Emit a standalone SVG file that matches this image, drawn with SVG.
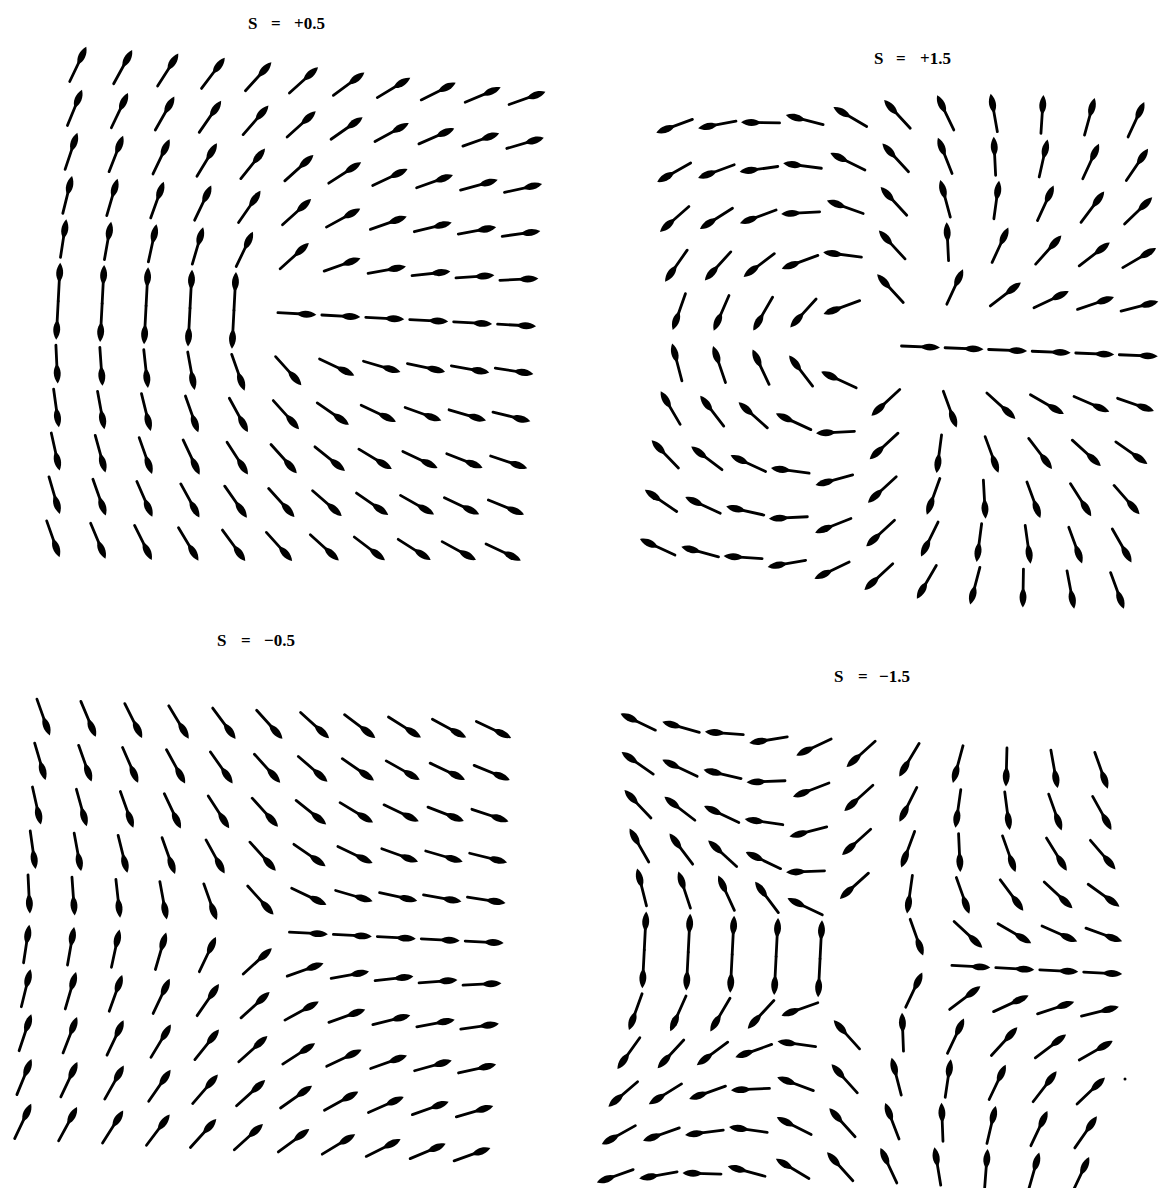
<svg xmlns="http://www.w3.org/2000/svg" xmlns:xlink="http://www.w3.org/1999/xlink" width="1161" height="1188" viewBox="0 0 1161 1188">
<style>
.t{font-family:"Liberation Serif","DejaVu Serif",serif;font-weight:bold;font-size:17px;fill:#000}
.ln{stroke:#000;stroke-width:2.8;stroke-linecap:round;fill:none}
.hd{fill:#000}
</style>
<defs>
<g id="n"><path class="ln" d="M0 0H34"/><path class="hd" d="M19 0C24 -4.6 32 -4.6 38.5 0C32 4.6 24 4.6 19 0Z"/></g>
</defs>
<rect width="1161" height="1188" fill="#fff"/>
<g id="title1"><text class="t" y="29"><tspan x="248">S</tspan><tspan x="271">=</tspan><tspan x="294">+0.5</tspan></text></g>
<g id="title2"><text class="t" y="64"><tspan x="874">S</tspan><tspan x="896">=</tspan><tspan x="920">+1.5</tspan></text></g>
<g id="title3"><text class="t" y="646"><tspan x="217">S</tspan><tspan x="241">=</tspan><tspan x="264">−0.5</tspan></text></g>
<g id="title4"><text class="t" y="682"><tspan x="834">S</tspan><tspan x="858">=</tspan><tspan x="879">−1.5</tspan></text></g>

<g id="panel1" transform="translate(277.9 312.7) rotate(3)">
<use href="#n" transform="translate(-220 -220)rotate(-67.5)"/><use href="#n" transform="translate(-176 -220)rotate(-64.3)"/><use href="#n" transform="translate(-132 -220)rotate(-60.5)"/><use href="#n" transform="translate(-88 -220)rotate(-55.9)"/><use href="#n" transform="translate(-44 -220)rotate(-50.7)"/><use href="#n" transform="translate(0 -220)rotate(-45)"/><use href="#n" transform="translate(44 -220)rotate(-39.3)"/><use href="#n" transform="translate(88 -220)rotate(-34.1)"/><use href="#n" transform="translate(132 -220)rotate(-29.5)"/><use href="#n" transform="translate(176 -220)rotate(-25.7)"/><use href="#n" transform="translate(220 -220)rotate(-22.5)"/>
<use href="#n" transform="translate(-220 -176)rotate(-70.7)"/><use href="#n" transform="translate(-176 -176)rotate(-67.5)"/><use href="#n" transform="translate(-132 -176)rotate(-63.4)"/><use href="#n" transform="translate(-88 -176)rotate(-58.3)"/><use href="#n" transform="translate(-44 -176)rotate(-52)"/><use href="#n" transform="translate(0 -176)rotate(-45)"/><use href="#n" transform="translate(44 -176)rotate(-38)"/><use href="#n" transform="translate(88 -176)rotate(-31.7)"/><use href="#n" transform="translate(132 -176)rotate(-26.6)"/><use href="#n" transform="translate(176 -176)rotate(-22.5)"/><use href="#n" transform="translate(220 -176)rotate(-19.3)"/>
<use href="#n" transform="translate(-220 -132)rotate(-74.5)"/><use href="#n" transform="translate(-176 -132)rotate(-71.6)"/><use href="#n" transform="translate(-132 -132)rotate(-67.5)"/><use href="#n" transform="translate(-88 -132)rotate(-61.8)"/><use href="#n" transform="translate(-44 -132)rotate(-54.2)"/><use href="#n" transform="translate(0 -132)rotate(-45)"/><use href="#n" transform="translate(44 -132)rotate(-35.8)"/><use href="#n" transform="translate(88 -132)rotate(-28.2)"/><use href="#n" transform="translate(132 -132)rotate(-22.5)"/><use href="#n" transform="translate(176 -132)rotate(-18.4)"/><use href="#n" transform="translate(220 -132)rotate(-15.5)"/>
<use href="#n" transform="translate(-220 -88)rotate(-79.1)"/><use href="#n" transform="translate(-176 -88)rotate(-76.7)"/><use href="#n" transform="translate(-132 -88)rotate(-73.2)"/><use href="#n" transform="translate(-88 -88)rotate(-67.5)"/><use href="#n" transform="translate(-44 -88)rotate(-58.3)"/><use href="#n" transform="translate(0 -88)rotate(-45)"/><use href="#n" transform="translate(44 -88)rotate(-31.7)"/><use href="#n" transform="translate(88 -88)rotate(-22.5)"/><use href="#n" transform="translate(132 -88)rotate(-16.8)"/><use href="#n" transform="translate(176 -88)rotate(-13.3)"/><use href="#n" transform="translate(220 -88)rotate(-10.9)"/>
<use href="#n" transform="translate(-220 -44)rotate(-84.3)"/><use href="#n" transform="translate(-176 -44)rotate(-83)"/><use href="#n" transform="translate(-132 -44)rotate(-80.8)"/><use href="#n" transform="translate(-88 -44)rotate(-76.7)"/><use href="#n" transform="translate(-44 -44)rotate(-67.5)"/><use href="#n" transform="translate(0 -44)rotate(-45)"/><use href="#n" transform="translate(44 -44)rotate(-22.5)"/><use href="#n" transform="translate(88 -44)rotate(-13.3)"/><use href="#n" transform="translate(132 -44)rotate(-9.2)"/><use href="#n" transform="translate(176 -44)rotate(-7)"/><use href="#n" transform="translate(220 -44)rotate(-5.7)"/>
<use href="#n" transform="translate(-220 0)rotate(-90)"/><use href="#n" transform="translate(-220 0)rotate(90)"/><use href="#n" transform="translate(-176 0)rotate(-90)"/><use href="#n" transform="translate(-176 0)rotate(90)"/><use href="#n" transform="translate(-132 0)rotate(-90)"/><use href="#n" transform="translate(-132 0)rotate(90)"/><use href="#n" transform="translate(-88 0)rotate(-90)"/><use href="#n" transform="translate(-88 0)rotate(90)"/><use href="#n" transform="translate(-44 0)rotate(-90)"/><use href="#n" transform="translate(-44 0)rotate(90)"/><use href="#n" transform="translate(0 0)"/><use href="#n" transform="translate(44 0)"/><use href="#n" transform="translate(88 0)"/><use href="#n" transform="translate(132 0)"/><use href="#n" transform="translate(176 0)"/><use href="#n" transform="translate(220 0)"/>
<use href="#n" transform="translate(-220 44)rotate(84.3)"/><use href="#n" transform="translate(-176 44)rotate(83)"/><use href="#n" transform="translate(-132 44)rotate(80.8)"/><use href="#n" transform="translate(-88 44)rotate(76.7)"/><use href="#n" transform="translate(-44 44)rotate(67.5)"/><use href="#n" transform="translate(0 44)rotate(45)"/><use href="#n" transform="translate(44 44)rotate(22.5)"/><use href="#n" transform="translate(88 44)rotate(13.3)"/><use href="#n" transform="translate(132 44)rotate(9.2)"/><use href="#n" transform="translate(176 44)rotate(7)"/><use href="#n" transform="translate(220 44)rotate(5.7)"/>
<use href="#n" transform="translate(-220 88)rotate(79.1)"/><use href="#n" transform="translate(-176 88)rotate(76.7)"/><use href="#n" transform="translate(-132 88)rotate(73.2)"/><use href="#n" transform="translate(-88 88)rotate(67.5)"/><use href="#n" transform="translate(-44 88)rotate(58.3)"/><use href="#n" transform="translate(0 88)rotate(45)"/><use href="#n" transform="translate(44 88)rotate(31.7)"/><use href="#n" transform="translate(88 88)rotate(22.5)"/><use href="#n" transform="translate(132 88)rotate(16.8)"/><use href="#n" transform="translate(176 88)rotate(13.3)"/><use href="#n" transform="translate(220 88)rotate(10.9)"/>
<use href="#n" transform="translate(-220 132)rotate(74.5)"/><use href="#n" transform="translate(-176 132)rotate(71.6)"/><use href="#n" transform="translate(-132 132)rotate(67.5)"/><use href="#n" transform="translate(-88 132)rotate(61.8)"/><use href="#n" transform="translate(-44 132)rotate(54.2)"/><use href="#n" transform="translate(0 132)rotate(45)"/><use href="#n" transform="translate(44 132)rotate(35.8)"/><use href="#n" transform="translate(88 132)rotate(28.2)"/><use href="#n" transform="translate(132 132)rotate(22.5)"/><use href="#n" transform="translate(176 132)rotate(18.4)"/><use href="#n" transform="translate(220 132)rotate(15.5)"/>
<use href="#n" transform="translate(-220 176)rotate(70.7)"/><use href="#n" transform="translate(-176 176)rotate(67.5)"/><use href="#n" transform="translate(-132 176)rotate(63.4)"/><use href="#n" transform="translate(-88 176)rotate(58.3)"/><use href="#n" transform="translate(-44 176)rotate(52)"/><use href="#n" transform="translate(0 176)rotate(45)"/><use href="#n" transform="translate(44 176)rotate(38)"/><use href="#n" transform="translate(88 176)rotate(31.7)"/><use href="#n" transform="translate(132 176)rotate(26.6)"/><use href="#n" transform="translate(176 176)rotate(22.5)"/><use href="#n" transform="translate(220 176)rotate(19.3)"/>
<use href="#n" transform="translate(-220 220)rotate(67.5)"/><use href="#n" transform="translate(-176 220)rotate(64.3)"/><use href="#n" transform="translate(-132 220)rotate(60.5)"/><use href="#n" transform="translate(-88 220)rotate(55.9)"/><use href="#n" transform="translate(-44 220)rotate(50.7)"/><use href="#n" transform="translate(0 220)rotate(45)"/><use href="#n" transform="translate(44 220)rotate(39.3)"/><use href="#n" transform="translate(88 220)rotate(34.1)"/><use href="#n" transform="translate(132 220)rotate(29.5)"/><use href="#n" transform="translate(176 220)rotate(25.7)"/><use href="#n" transform="translate(220 220)rotate(22.5)"/>
</g>

<g id="panel2" transform="translate(901.5 346) rotate(2.3)">
<use href="#n" transform="translate(-218 -218)rotate(-202.5)"/><use href="#n" transform="translate(-174.4 -218)rotate(-193)"/><use href="#n" transform="translate(-130.8 -218)rotate(-181.4)"/><use href="#n" transform="translate(-87.2 -218)rotate(-167.7)"/><use href="#n" transform="translate(-43.6 -218)rotate(-152)"/><use href="#n" transform="translate(0 -218)rotate(-135)"/><use href="#n" transform="translate(43.6 -218)rotate(-118)"/><use href="#n" transform="translate(87.2 -218)rotate(-102.3)"/><use href="#n" transform="translate(130.8 -218)rotate(-88.6)"/><use href="#n" transform="translate(174.4 -218)rotate(-77)"/><use href="#n" transform="translate(218 -218)rotate(-67.5)"/>
<use href="#n" transform="translate(-218 -174.4)rotate(-212)"/><use href="#n" transform="translate(-174.4 -174.4)rotate(-202.5)"/><use href="#n" transform="translate(-130.8 -174.4)rotate(-190.3)"/><use href="#n" transform="translate(-87.2 -174.4)rotate(-174.9)"/><use href="#n" transform="translate(-43.6 -174.4)rotate(-156.1)"/><use href="#n" transform="translate(0 -174.4)rotate(-135)"/><use href="#n" transform="translate(43.6 -174.4)rotate(-113.9)"/><use href="#n" transform="translate(87.2 -174.4)rotate(-95.1)"/><use href="#n" transform="translate(130.8 -174.4)rotate(-79.7)"/><use href="#n" transform="translate(174.4 -174.4)rotate(-67.5)"/><use href="#n" transform="translate(218 -174.4)rotate(-58)"/>
<use href="#n" transform="translate(-218 -130.8)rotate(-223.6)"/><use href="#n" transform="translate(-174.4 -130.8)rotate(-214.7)"/><use href="#n" transform="translate(-130.8 -130.8)rotate(-202.5)"/><use href="#n" transform="translate(-87.2 -130.8)rotate(-185.5)"/><use href="#n" transform="translate(-43.6 -130.8)rotate(-162.6)"/><use href="#n" transform="translate(0 -130.8)rotate(-135)"/><use href="#n" transform="translate(43.6 -130.8)rotate(-107.4)"/><use href="#n" transform="translate(87.2 -130.8)rotate(-84.5)"/><use href="#n" transform="translate(130.8 -130.8)rotate(-67.5)"/><use href="#n" transform="translate(174.4 -130.8)rotate(-55.3)"/><use href="#n" transform="translate(218 -130.8)rotate(-46.4)"/>
<use href="#n" transform="translate(-218 -87.2)rotate(-237.3)"/><use href="#n" transform="translate(-174.4 -87.2)rotate(-230.1)"/><use href="#n" transform="translate(-130.8 -87.2)rotate(-219.5)"/><use href="#n" transform="translate(-87.2 -87.2)rotate(-202.5)"/><use href="#n" transform="translate(-43.6 -87.2)rotate(-174.9)"/><use href="#n" transform="translate(0 -87.2)rotate(-135)"/><use href="#n" transform="translate(43.6 -87.2)rotate(-95.1)"/><use href="#n" transform="translate(87.2 -87.2)rotate(-67.5)"/><use href="#n" transform="translate(130.8 -87.2)rotate(-50.5)"/><use href="#n" transform="translate(174.4 -87.2)rotate(-39.9)"/><use href="#n" transform="translate(218 -87.2)rotate(-32.7)"/>
<use href="#n" transform="translate(-218 -43.6)rotate(-253)"/><use href="#n" transform="translate(-174.4 -43.6)rotate(-248.9)"/><use href="#n" transform="translate(-130.8 -43.6)rotate(-242.4)"/><use href="#n" transform="translate(-87.2 -43.6)rotate(-230.1)"/><use href="#n" transform="translate(-43.6 -43.6)rotate(-202.5)"/><use href="#n" transform="translate(0 -43.6)rotate(-135)"/><use href="#n" transform="translate(43.6 -43.6)rotate(-67.5)"/><use href="#n" transform="translate(87.2 -43.6)rotate(-39.9)"/><use href="#n" transform="translate(130.8 -43.6)rotate(-27.6)"/><use href="#n" transform="translate(174.4 -43.6)rotate(-21.1)"/><use href="#n" transform="translate(218 -43.6)rotate(-17)"/>
<use href="#n" transform="translate(0 0)"/><use href="#n" transform="translate(43.6 0)"/><use href="#n" transform="translate(87.2 0)"/><use href="#n" transform="translate(130.8 0)"/><use href="#n" transform="translate(174.4 0)"/><use href="#n" transform="translate(218 0)"/>
<use href="#n" transform="translate(-218 43.6)rotate(253)"/><use href="#n" transform="translate(-174.4 43.6)rotate(248.9)"/><use href="#n" transform="translate(-130.8 43.6)rotate(242.4)"/><use href="#n" transform="translate(-87.2 43.6)rotate(230.1)"/><use href="#n" transform="translate(-43.6 43.6)rotate(202.5)"/><use href="#n" transform="translate(0 43.6)rotate(135)"/><use href="#n" transform="translate(43.6 43.6)rotate(67.5)"/><use href="#n" transform="translate(87.2 43.6)rotate(39.9)"/><use href="#n" transform="translate(130.8 43.6)rotate(27.6)"/><use href="#n" transform="translate(174.4 43.6)rotate(21.1)"/><use href="#n" transform="translate(218 43.6)rotate(17)"/>
<use href="#n" transform="translate(-218 87.2)rotate(237.3)"/><use href="#n" transform="translate(-174.4 87.2)rotate(230.1)"/><use href="#n" transform="translate(-130.8 87.2)rotate(219.5)"/><use href="#n" transform="translate(-87.2 87.2)rotate(202.5)"/><use href="#n" transform="translate(-43.6 87.2)rotate(174.9)"/><use href="#n" transform="translate(0 87.2)rotate(135)"/><use href="#n" transform="translate(43.6 87.2)rotate(95.1)"/><use href="#n" transform="translate(87.2 87.2)rotate(67.5)"/><use href="#n" transform="translate(130.8 87.2)rotate(50.5)"/><use href="#n" transform="translate(174.4 87.2)rotate(39.9)"/><use href="#n" transform="translate(218 87.2)rotate(32.7)"/>
<use href="#n" transform="translate(-218 130.8)rotate(223.6)"/><use href="#n" transform="translate(-174.4 130.8)rotate(214.7)"/><use href="#n" transform="translate(-130.8 130.8)rotate(202.5)"/><use href="#n" transform="translate(-87.2 130.8)rotate(185.5)"/><use href="#n" transform="translate(-43.6 130.8)rotate(162.6)"/><use href="#n" transform="translate(0 130.8)rotate(135)"/><use href="#n" transform="translate(43.6 130.8)rotate(107.4)"/><use href="#n" transform="translate(87.2 130.8)rotate(84.5)"/><use href="#n" transform="translate(130.8 130.8)rotate(67.5)"/><use href="#n" transform="translate(174.4 130.8)rotate(55.3)"/><use href="#n" transform="translate(218 130.8)rotate(46.4)"/>
<use href="#n" transform="translate(-218 174.4)rotate(212)"/><use href="#n" transform="translate(-174.4 174.4)rotate(202.5)"/><use href="#n" transform="translate(-130.8 174.4)rotate(190.3)"/><use href="#n" transform="translate(-87.2 174.4)rotate(174.9)"/><use href="#n" transform="translate(-43.6 174.4)rotate(156.1)"/><use href="#n" transform="translate(0 174.4)rotate(135)"/><use href="#n" transform="translate(43.6 174.4)rotate(113.9)"/><use href="#n" transform="translate(87.2 174.4)rotate(95.1)"/><use href="#n" transform="translate(130.8 174.4)rotate(79.7)"/><use href="#n" transform="translate(174.4 174.4)rotate(67.5)"/><use href="#n" transform="translate(218 174.4)rotate(58)"/>
<use href="#n" transform="translate(-218 218)rotate(202.5)"/><use href="#n" transform="translate(-174.4 218)rotate(193)"/><use href="#n" transform="translate(-130.8 218)rotate(181.4)"/><use href="#n" transform="translate(-87.2 218)rotate(167.7)"/><use href="#n" transform="translate(-43.6 218)rotate(152)"/><use href="#n" transform="translate(0 218)rotate(135)"/><use href="#n" transform="translate(43.6 218)rotate(118)"/><use href="#n" transform="translate(87.2 218)rotate(102.3)"/><use href="#n" transform="translate(130.8 218)rotate(88.6)"/><use href="#n" transform="translate(174.4 218)rotate(77)"/><use href="#n" transform="translate(218 218)rotate(67.5)"/>
</g>

<g id="panel3" transform="translate(245.5 930) rotate(2.9)">
<use href="#n" transform="translate(-220 -220)rotate(67.5)"/><use href="#n" transform="translate(-176 -220)rotate(64.3)"/><use href="#n" transform="translate(-132 -220)rotate(60.5)"/><use href="#n" transform="translate(-88 -220)rotate(55.9)"/><use href="#n" transform="translate(-44 -220)rotate(50.7)"/><use href="#n" transform="translate(0 -220)rotate(45)"/><use href="#n" transform="translate(44 -220)rotate(39.3)"/><use href="#n" transform="translate(88 -220)rotate(34.1)"/><use href="#n" transform="translate(132 -220)rotate(29.5)"/><use href="#n" transform="translate(176 -220)rotate(25.7)"/><use href="#n" transform="translate(220 -220)rotate(22.5)"/>
<use href="#n" transform="translate(-220 -176)rotate(70.7)"/><use href="#n" transform="translate(-176 -176)rotate(67.5)"/><use href="#n" transform="translate(-132 -176)rotate(63.4)"/><use href="#n" transform="translate(-88 -176)rotate(58.3)"/><use href="#n" transform="translate(-44 -176)rotate(52)"/><use href="#n" transform="translate(0 -176)rotate(45)"/><use href="#n" transform="translate(44 -176)rotate(38)"/><use href="#n" transform="translate(88 -176)rotate(31.7)"/><use href="#n" transform="translate(132 -176)rotate(26.6)"/><use href="#n" transform="translate(176 -176)rotate(22.5)"/><use href="#n" transform="translate(220 -176)rotate(19.3)"/>
<use href="#n" transform="translate(-220 -132)rotate(74.5)"/><use href="#n" transform="translate(-176 -132)rotate(71.6)"/><use href="#n" transform="translate(-132 -132)rotate(67.5)"/><use href="#n" transform="translate(-88 -132)rotate(61.8)"/><use href="#n" transform="translate(-44 -132)rotate(54.2)"/><use href="#n" transform="translate(0 -132)rotate(45)"/><use href="#n" transform="translate(44 -132)rotate(35.8)"/><use href="#n" transform="translate(88 -132)rotate(28.2)"/><use href="#n" transform="translate(132 -132)rotate(22.5)"/><use href="#n" transform="translate(176 -132)rotate(18.4)"/><use href="#n" transform="translate(220 -132)rotate(15.5)"/>
<use href="#n" transform="translate(-220 -88)rotate(79.1)"/><use href="#n" transform="translate(-176 -88)rotate(76.7)"/><use href="#n" transform="translate(-132 -88)rotate(73.2)"/><use href="#n" transform="translate(-88 -88)rotate(67.5)"/><use href="#n" transform="translate(-44 -88)rotate(58.3)"/><use href="#n" transform="translate(0 -88)rotate(45)"/><use href="#n" transform="translate(44 -88)rotate(31.7)"/><use href="#n" transform="translate(88 -88)rotate(22.5)"/><use href="#n" transform="translate(132 -88)rotate(16.8)"/><use href="#n" transform="translate(176 -88)rotate(13.3)"/><use href="#n" transform="translate(220 -88)rotate(10.9)"/>
<use href="#n" transform="translate(-220 -44)rotate(84.3)"/><use href="#n" transform="translate(-176 -44)rotate(83)"/><use href="#n" transform="translate(-132 -44)rotate(80.8)"/><use href="#n" transform="translate(-88 -44)rotate(76.7)"/><use href="#n" transform="translate(-44 -44)rotate(67.5)"/><use href="#n" transform="translate(0 -44)rotate(45)"/><use href="#n" transform="translate(44 -44)rotate(22.5)"/><use href="#n" transform="translate(88 -44)rotate(13.3)"/><use href="#n" transform="translate(132 -44)rotate(9.2)"/><use href="#n" transform="translate(176 -44)rotate(7)"/><use href="#n" transform="translate(220 -44)rotate(5.7)"/>
<use href="#n" transform="translate(44 0)"/><use href="#n" transform="translate(88 0)"/><use href="#n" transform="translate(132 0)"/><use href="#n" transform="translate(176 0)"/><use href="#n" transform="translate(220 0)"/>
<use href="#n" transform="translate(-220 44)rotate(-84.3)"/><use href="#n" transform="translate(-176 44)rotate(-83)"/><use href="#n" transform="translate(-132 44)rotate(-80.8)"/><use href="#n" transform="translate(-88 44)rotate(-76.7)"/><use href="#n" transform="translate(-44 44)rotate(-67.5)"/><use href="#n" transform="translate(0 44)rotate(-45)"/><use href="#n" transform="translate(44 44)rotate(-22.5)"/><use href="#n" transform="translate(88 44)rotate(-13.3)"/><use href="#n" transform="translate(132 44)rotate(-9.2)"/><use href="#n" transform="translate(176 44)rotate(-7)"/><use href="#n" transform="translate(220 44)rotate(-5.7)"/>
<use href="#n" transform="translate(-220 88)rotate(-79.1)"/><use href="#n" transform="translate(-176 88)rotate(-76.7)"/><use href="#n" transform="translate(-132 88)rotate(-73.2)"/><use href="#n" transform="translate(-88 88)rotate(-67.5)"/><use href="#n" transform="translate(-44 88)rotate(-58.3)"/><use href="#n" transform="translate(0 88)rotate(-45)"/><use href="#n" transform="translate(44 88)rotate(-31.7)"/><use href="#n" transform="translate(88 88)rotate(-22.5)"/><use href="#n" transform="translate(132 88)rotate(-16.8)"/><use href="#n" transform="translate(176 88)rotate(-13.3)"/><use href="#n" transform="translate(220 88)rotate(-10.9)"/>
<use href="#n" transform="translate(-220 132)rotate(-74.5)"/><use href="#n" transform="translate(-176 132)rotate(-71.6)"/><use href="#n" transform="translate(-132 132)rotate(-67.5)"/><use href="#n" transform="translate(-88 132)rotate(-61.8)"/><use href="#n" transform="translate(-44 132)rotate(-54.2)"/><use href="#n" transform="translate(0 132)rotate(-45)"/><use href="#n" transform="translate(44 132)rotate(-35.8)"/><use href="#n" transform="translate(88 132)rotate(-28.2)"/><use href="#n" transform="translate(132 132)rotate(-22.5)"/><use href="#n" transform="translate(176 132)rotate(-18.4)"/><use href="#n" transform="translate(220 132)rotate(-15.5)"/>
<use href="#n" transform="translate(-220 176)rotate(-70.7)"/><use href="#n" transform="translate(-176 176)rotate(-67.5)"/><use href="#n" transform="translate(-132 176)rotate(-63.4)"/><use href="#n" transform="translate(-88 176)rotate(-58.3)"/><use href="#n" transform="translate(-44 176)rotate(-52)"/><use href="#n" transform="translate(0 176)rotate(-45)"/><use href="#n" transform="translate(44 176)rotate(-38)"/><use href="#n" transform="translate(88 176)rotate(-31.7)"/><use href="#n" transform="translate(132 176)rotate(-26.6)"/><use href="#n" transform="translate(176 176)rotate(-22.5)"/><use href="#n" transform="translate(220 176)rotate(-19.3)"/>
<use href="#n" transform="translate(-220 220)rotate(-67.5)"/><use href="#n" transform="translate(-176 220)rotate(-64.3)"/><use href="#n" transform="translate(-132 220)rotate(-60.5)"/><use href="#n" transform="translate(-88 220)rotate(-55.9)"/><use href="#n" transform="translate(-44 220)rotate(-50.7)"/><use href="#n" transform="translate(0 220)rotate(-45)"/><use href="#n" transform="translate(44 220)rotate(-39.3)"/><use href="#n" transform="translate(88 220)rotate(-34.1)"/><use href="#n" transform="translate(132 220)rotate(-29.5)"/><use href="#n" transform="translate(176 220)rotate(-25.7)"/><use href="#n" transform="translate(220 220)rotate(-22.5)"/>
</g>

<g id="panel4" transform="translate(864 961) rotate(2.9)">
<use href="#n" transform="translate(-220 -220)rotate(202.5)"/><use href="#n" transform="translate(-176 -220)rotate(193)"/><use href="#n" transform="translate(-132 -220)rotate(181.4)"/><use href="#n" transform="translate(-88 -220)rotate(167.7)"/><use href="#n" transform="translate(-44 -220)rotate(152)"/><use href="#n" transform="translate(0 -220)rotate(135)"/><use href="#n" transform="translate(44 -220)rotate(118)"/><use href="#n" transform="translate(88 -220)rotate(102.3)"/><use href="#n" transform="translate(132 -220)rotate(88.6)"/><use href="#n" transform="translate(176 -220)rotate(77)"/><use href="#n" transform="translate(220 -220)rotate(67.5)"/>
<use href="#n" transform="translate(-220 -176)rotate(212)"/><use href="#n" transform="translate(-176 -176)rotate(202.5)"/><use href="#n" transform="translate(-132 -176)rotate(190.3)"/><use href="#n" transform="translate(-88 -176)rotate(174.9)"/><use href="#n" transform="translate(-44 -176)rotate(156.1)"/><use href="#n" transform="translate(0 -176)rotate(135)"/><use href="#n" transform="translate(44 -176)rotate(113.9)"/><use href="#n" transform="translate(88 -176)rotate(95.1)"/><use href="#n" transform="translate(132 -176)rotate(79.7)"/><use href="#n" transform="translate(176 -176)rotate(67.5)"/><use href="#n" transform="translate(220 -176)rotate(58)"/>
<use href="#n" transform="translate(-220 -132)rotate(223.6)"/><use href="#n" transform="translate(-176 -132)rotate(214.7)"/><use href="#n" transform="translate(-132 -132)rotate(202.5)"/><use href="#n" transform="translate(-88 -132)rotate(185.5)"/><use href="#n" transform="translate(-44 -132)rotate(162.6)"/><use href="#n" transform="translate(0 -132)rotate(135)"/><use href="#n" transform="translate(44 -132)rotate(107.4)"/><use href="#n" transform="translate(88 -132)rotate(84.5)"/><use href="#n" transform="translate(132 -132)rotate(67.5)"/><use href="#n" transform="translate(176 -132)rotate(55.3)"/><use href="#n" transform="translate(220 -132)rotate(46.4)"/>
<use href="#n" transform="translate(-220 -88)rotate(237.3)"/><use href="#n" transform="translate(-176 -88)rotate(230.1)"/><use href="#n" transform="translate(-132 -88)rotate(219.5)"/><use href="#n" transform="translate(-88 -88)rotate(202.5)"/><use href="#n" transform="translate(-44 -88)rotate(174.9)"/><use href="#n" transform="translate(0 -88)rotate(135)"/><use href="#n" transform="translate(44 -88)rotate(95.1)"/><use href="#n" transform="translate(88 -88)rotate(67.5)"/><use href="#n" transform="translate(132 -88)rotate(50.5)"/><use href="#n" transform="translate(176 -88)rotate(39.9)"/><use href="#n" transform="translate(220 -88)rotate(32.7)"/>
<use href="#n" transform="translate(-220 -44)rotate(253)"/><use href="#n" transform="translate(-176 -44)rotate(248.9)"/><use href="#n" transform="translate(-132 -44)rotate(242.4)"/><use href="#n" transform="translate(-88 -44)rotate(230.1)"/><use href="#n" transform="translate(-44 -44)rotate(202.5)"/><use href="#n" transform="translate(44 -44)rotate(67.5)"/><use href="#n" transform="translate(88 -44)rotate(39.9)"/><use href="#n" transform="translate(132 -44)rotate(27.6)"/><use href="#n" transform="translate(176 -44)rotate(21.1)"/><use href="#n" transform="translate(220 -44)rotate(17)"/>
<use href="#n" transform="translate(-220 0)rotate(-90)"/><use href="#n" transform="translate(-220 0)rotate(90)"/><use href="#n" transform="translate(-176 0)rotate(-90)"/><use href="#n" transform="translate(-176 0)rotate(90)"/><use href="#n" transform="translate(-132 0)rotate(-90)"/><use href="#n" transform="translate(-132 0)rotate(90)"/><use href="#n" transform="translate(-88 0)rotate(-90)"/><use href="#n" transform="translate(-88 0)rotate(90)"/><use href="#n" transform="translate(-44 0)rotate(-90)"/><use href="#n" transform="translate(-44 0)rotate(90)"/><use href="#n" transform="translate(88 0)"/><use href="#n" transform="translate(132 0)"/><use href="#n" transform="translate(176 0)"/><use href="#n" transform="translate(220 0)"/>
<use href="#n" transform="translate(-220 44)rotate(-253)"/><use href="#n" transform="translate(-176 44)rotate(-248.9)"/><use href="#n" transform="translate(-132 44)rotate(-242.4)"/><use href="#n" transform="translate(-88 44)rotate(-230.1)"/><use href="#n" transform="translate(-44 44)rotate(-202.5)"/><use href="#n" transform="translate(44 44)rotate(-67.5)"/><use href="#n" transform="translate(88 44)rotate(-39.9)"/><use href="#n" transform="translate(132 44)rotate(-27.6)"/><use href="#n" transform="translate(176 44)rotate(-21.1)"/><use href="#n" transform="translate(220 44)rotate(-17)"/>
<use href="#n" transform="translate(-220 88)rotate(-237.3)"/><use href="#n" transform="translate(-176 88)rotate(-230.1)"/><use href="#n" transform="translate(-132 88)rotate(-219.5)"/><use href="#n" transform="translate(-88 88)rotate(-202.5)"/><use href="#n" transform="translate(-44 88)rotate(-174.9)"/><use href="#n" transform="translate(0 88)rotate(-135)"/><use href="#n" transform="translate(44 88)rotate(-95.1)"/><use href="#n" transform="translate(88 88)rotate(-67.5)"/><use href="#n" transform="translate(132 88)rotate(-50.5)"/><use href="#n" transform="translate(176 88)rotate(-39.9)"/><use href="#n" transform="translate(220 88)rotate(-32.7)"/>
<use href="#n" transform="translate(-220 132)rotate(-223.6)"/><use href="#n" transform="translate(-176 132)rotate(-214.7)"/><use href="#n" transform="translate(-132 132)rotate(-202.5)"/><use href="#n" transform="translate(-88 132)rotate(-185.5)"/><use href="#n" transform="translate(-44 132)rotate(-162.6)"/><use href="#n" transform="translate(0 132)rotate(-135)"/><use href="#n" transform="translate(44 132)rotate(-107.4)"/><use href="#n" transform="translate(88 132)rotate(-84.5)"/><use href="#n" transform="translate(132 132)rotate(-67.5)"/><use href="#n" transform="translate(176 132)rotate(-55.3)"/><use href="#n" transform="translate(220 132)rotate(-46.4)"/>
<use href="#n" transform="translate(-220 176)rotate(-212)"/><use href="#n" transform="translate(-176 176)rotate(-202.5)"/><use href="#n" transform="translate(-132 176)rotate(-190.3)"/><use href="#n" transform="translate(-88 176)rotate(-174.9)"/><use href="#n" transform="translate(-44 176)rotate(-156.1)"/><use href="#n" transform="translate(0 176)rotate(-135)"/><use href="#n" transform="translate(44 176)rotate(-113.9)"/><use href="#n" transform="translate(88 176)rotate(-95.1)"/><use href="#n" transform="translate(132 176)rotate(-79.7)"/><use href="#n" transform="translate(176 176)rotate(-67.5)"/><use href="#n" transform="translate(220 176)rotate(-58)"/>
<use href="#n" transform="translate(-220 220)rotate(-202.5)"/><use href="#n" transform="translate(-176 220)rotate(-193)"/><use href="#n" transform="translate(-132 220)rotate(-181.4)"/><use href="#n" transform="translate(-88 220)rotate(-167.7)"/><use href="#n" transform="translate(-44 220)rotate(-152)"/><use href="#n" transform="translate(0 220)rotate(-135)"/><use href="#n" transform="translate(44 220)rotate(-118)"/><use href="#n" transform="translate(88 220)rotate(-102.3)"/><use href="#n" transform="translate(132 220)rotate(-88.6)"/><use href="#n" transform="translate(176 220)rotate(-77)"/><use href="#n" transform="translate(220 220)rotate(-67.5)"/>
</g>
<circle cx="1125" cy="1079" r="1.5" fill="#000"/>
</svg>
